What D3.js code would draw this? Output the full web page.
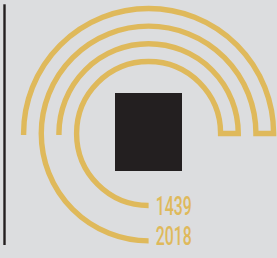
<!DOCTYPE html>
<html lang="en">
<head>
  <meta charset="UTF-8">
  <title>1439 – 2018</title>
  <script src="https://d3js.org/d3.v7.min.js"></script>
  <style>
    body {
      margin: 0;
      background: #dcdddf;
    }
    svg {
      display: block;
    }
  </style>
</head>
<body>
  <svg width="277" height="258"></svg>

  <script>
    // one band per label, inner band first
    const years = ["1439", "2018"];
    const ringIndex = [0, 1, 2, 3];

    const width = 277;
    const height = 258;
    const gold = "#dfb95b";
    const cx = 148.6;
    const cy = 133.5;

    const svg = d3.select("svg");

    const ring = d3.scaleLinear()
      .domain(d3.extent(ringIndex))
      .range([72, 125]);

    const labelY = d3.scalePoint()
      .domain(years)
      .range([215, 245.3]);

    // left rule
    svg.append("line")
      .attr("x1", 4.5).attr("x2", 4.5)
      .attr("y1", 4.3).attr("y2", 245)
      .attr("stroke", "#231f20")
      .attr("stroke-width", 2.4);

    // centre block
    svg.append("rect")
      .attr("x", 115).attr("y", 93)
      .attr("width", 67).attr("height", 78)
      .attr("fill", "#231f20");

    const band = (d, i) => {
      const ri = ring(ringIndex[i * 2]);
      const ro = ring(ringIndex[i * 2 + 1]);
      const p = d3.path();
      p.moveTo(cx - ro, cy + 1.5);
      p.lineTo(cx - ro, cy);
      p.arc(cx, cy, ro, Math.PI, 2 * Math.PI, false);
      p.lineTo(cx + ri, cy);
      p.arc(cx, cy, ri, 0, -1.5 * Math.PI, true);
      return p.toString();
    };

    svg.append("g")
      .selectAll("path")
      .data(years)
      .join("path")
      .attr("d", band)
      .attr("fill", "none")
      .attr("stroke", gold)
      .attr("stroke-width", 5.4)
      .attr("stroke-linejoin", "miter");

    svg.append("g")
      .selectAll("text")
      .data(years)
      .join("text")
      .attr("x", 155.7)
      .attr("y", d => labelY(d))
      .attr("textLength", 36)
      .attr("lengthAdjust", "spacingAndGlyphs")
      .attr("fill", gold)
      .attr("font-family", "Roboto, 'DejaVu Sans', sans-serif")
      .attr("font-weight", 500)
      .attr("font-size", 25)
      .text(d => d);
  </script>
</body>
</html>
